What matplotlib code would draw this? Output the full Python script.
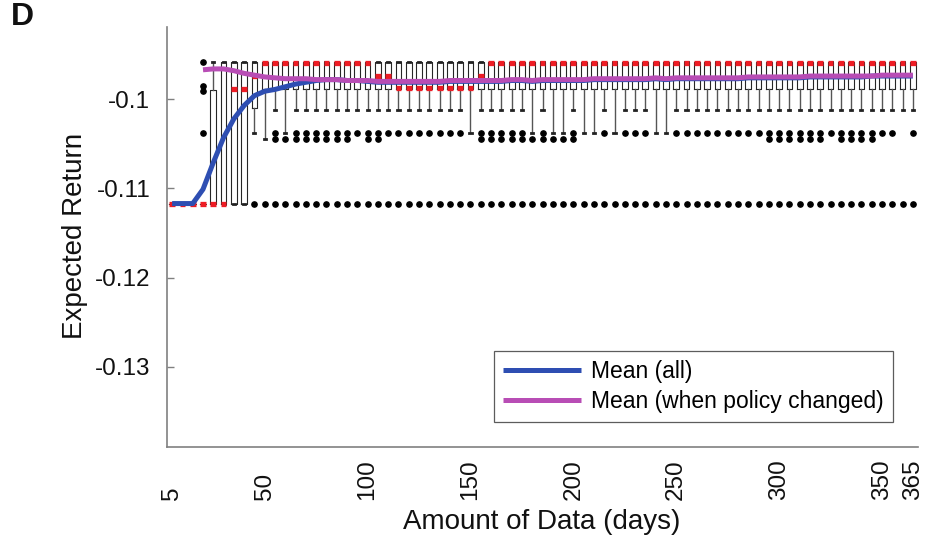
import matplotlib
matplotlib.use("Agg")
import matplotlib.pyplot as plt

plt.rcParams['font.family'] = ['Liberation Sans', 'DejaVu Sans']

# ---------------- data ----------------
days = list(range(5, 370, 5))  # 73 box positions

q3 = ([-0.1117] * 4 + [-0.0990] + [-0.0958] * 68)
q1 = ([-0.1117] * 8 + [-0.1010] + [-0.0989] * 64)
medians = ([-0.1117] * 6 + [-0.0989] * 2 + [-0.0974] + [-0.0959] * 11 +
           [-0.0974] * 2 + [-0.0987] * 8 + [-0.0974] + [-0.0959] * 42)
whis_hi = [-0.1117] * 4 + [-0.0958] * 69
whis_lo = ([-0.1117] * 8 + [-0.1038, -0.1045, -0.1012, -0.1038] + [-0.1012] * 17 +
           [-0.1038] + [-0.1012] * 5 + [-0.1038, -0.1012, -0.1038, -0.1038, -0.1012,
           -0.1038, -0.1038, -0.1012, -0.1038] + [-0.1012] * 3 + [-0.1038, -0.1038] +
           [-0.1012] * 24)

outliers = (
    [[], [], [], [-0.0958, -0.0985, -0.0991, -0.1038]] +
    [[], [], [], []] +
    [[-0.1117], [-0.1117], [-0.1038, -0.1045, -0.1117], [-0.1045, -0.1117]] +
    [[-0.1038, -0.1045, -0.1117]] * 6 +
    [[-0.1038, -0.1117], [-0.1038, -0.1045, -0.1117], [-0.1038, -0.1045, -0.1117],
     [-0.1038, -0.1117]] +
    [[-0.1038, -0.1117]] * 7 +
    [[-0.1117]] +
    [[-0.1038, -0.1045, -0.1117]] * 5 +
    [[-0.1045, -0.1117], [-0.1038, -0.1045, -0.1117], [-0.1045, -0.1117],
     [-0.1045, -0.1117], [-0.1038, -0.1045, -0.1117], [-0.1117], [-0.1117],
     [-0.1038, -0.1117], [-0.1117]] +
    [[-0.1038, -0.1117]] * 3 +
    [[-0.1117], [-0.1117]] +
    [[-0.1038, -0.1117]] * 9 +
    [[-0.1038, -0.1045, -0.1117]] * 6 +
    [[-0.1038, -0.1117]] +
    [[-0.1038, -0.1045, -0.1117]] * 4 +
    [[-0.1038, -0.1117], [-0.1038, -0.1117], [-0.1117], [-0.1038, -0.1117]]
)

mean_all = [-0.1117, -0.1117, -0.1117, -0.1101, -0.1071, -0.1043, -0.1022, -0.1007,
            -0.0996, -0.0991, -0.0989, -0.0986, -0.0983, -0.0981, -0.0979, -0.0978,
            -0.0978, -0.0979, -0.0979, -0.0980, -0.0981, -0.0981, -0.0981, -0.0981,
            -0.0981, -0.0981, -0.0981, -0.0980, -0.0980, -0.0980, -0.0980, -0.0980,
            -0.0980, -0.0979, -0.0979, -0.0980, -0.0979, -0.0979, -0.0979, -0.0979,
            -0.0979, -0.0978, -0.0978, -0.0978, -0.0978, -0.0978, -0.0978, -0.0977,
            -0.0978, -0.0977, -0.0977, -0.0977, -0.0977, -0.0977, -0.0977, -0.0977,
            -0.0976, -0.0976, -0.0976, -0.0976, -0.0976, -0.0976, -0.0975, -0.0975,
            -0.0975, -0.0975, -0.0975, -0.0975, -0.0974, -0.0974, -0.0974, -0.0974,
            -0.0974]

days_changed = list(range(20, 370, 5))
mean_changed = [-0.0967, -0.0966, -0.0966, -0.0968, -0.0971, -0.0973, -0.0975, -0.0976,
                -0.0977, -0.0977, -0.0977, -0.0978, -0.0978, -0.0978, -0.0979, -0.0979,
                -0.0979, -0.0980, -0.0980, -0.0980, -0.0980, -0.0980, -0.0980, -0.0980,
                -0.0979, -0.0979, -0.0979, -0.0979, -0.0979, -0.0979, -0.0978, -0.0978,
                -0.0979, -0.0978, -0.0978, -0.0978, -0.0978, -0.0978, -0.0977, -0.0977,
                -0.0977, -0.0977, -0.0977, -0.0977, -0.0976, -0.0977, -0.0976, -0.0976,
                -0.0976, -0.0976, -0.0976, -0.0976, -0.0976, -0.0975, -0.0975, -0.0975,
                -0.0975, -0.0975, -0.0975, -0.0974, -0.0974, -0.0974, -0.0974, -0.0974,
                -0.0974, -0.0974, -0.0973, -0.0973, -0.0973, -0.0973]

xticks = [5, 50, 100, 150, 200, 250, 300, 350, 365]
yticks = [-0.13, -0.12, -0.11, -0.1]
ytick_labels = ['-0.13', '-0.12', '-0.11', '-0.1']

# ---------------- figure ----------------
fig = plt.figure(figsize=(9.27, 5.37), dpi=100)
ax = fig.add_axes([167 / 927, 1 - 447 / 537, (918 - 167) / 927, (447 - 27) / 537])

stats = []
for i in range(len(days)):
    stats.append(dict(med=medians[i], q1=q1[i], q3=q3[i], whislo=whis_lo[i],
                      whishi=whis_hi[i], fliers=outliers[i]))

ax.bxp(stats, positions=days, widths=2.8, showfliers=True, manage_ticks=False,
       capwidths=1.0,
       boxprops=dict(color='#262626', linewidth=0.8),
       whiskerprops=dict(color='#555555', linewidth=1.0, linestyle='-'),
       capprops=dict(color='#222222', linewidth=2.0),
       medianprops=dict(color='#ee1c24', linewidth=3.8, solid_capstyle='butt'),
       flierprops=dict(marker='o', markerfacecolor='black', markeredgecolor='black',
                       markersize=3.8, linestyle='none'))

ax.plot(days, mean_all, color='#2e4eb2', linewidth=3.6, zorder=5,
        solid_capstyle='butt', label='Mean (all)')
ax.plot(days_changed, mean_changed, color='#b84db5', linewidth=3.6, zorder=6,
        solid_capstyle='butt', label='Mean (when policy changed)')

ax.set_xlim(2.5, 367.5)
ax.set_ylim(-0.1390, -0.0919)

ax.set_yticks(yticks)
ax.set_yticklabels(ytick_labels)
ax.set_xticks(xticks)
ax.set_xticklabels([str(t) for t in xticks], rotation=90, va='bottom', ha='center')

for s in ['top', 'right']:
    ax.spines[s].set_visible(False)
for s in ['left', 'bottom']:
    ax.spines[s].set_color('#808080')
    ax.spines[s].set_linewidth(1.2)

ax.tick_params(axis='y', direction='in', length=5, width=1, color='#808080',
               labelsize=17.5, pad=12, labelcolor='#111111')
ax.tick_params(axis='x', length=0, labelsize=17.5, pad=38, labelcolor='#111111')

fig.text(542 / 927, 1 - 522 / 537, 'Amount of Data (days)', fontsize=20,
         ha='center', va='center', color='#111111')
fig.text(75 / 927, 1 - 236 / 537, 'Expected Return', fontsize=20, rotation=90,
         ha='center', va='center', color='#111111')
fig.text(11 / 927, 1 - 25 / 537, 'D', fontsize=23, fontweight='bold',
         ha='left', va='baseline', color='#111111')

leg = ax.legend(loc='lower right', bbox_to_anchor=((893 - 167) / 751, (447 - 422) / 420),
                borderaxespad=0, fontsize=16.5, frameon=True, fancybox=False,
                handlelength=3.4, handletextpad=0.45, labelspacing=0.3,
                borderpad=0.4)
leg.get_frame().set_edgecolor('#333333')
leg.get_frame().set_linewidth(0.9)

fig.savefig('out.png', dpi=100)
